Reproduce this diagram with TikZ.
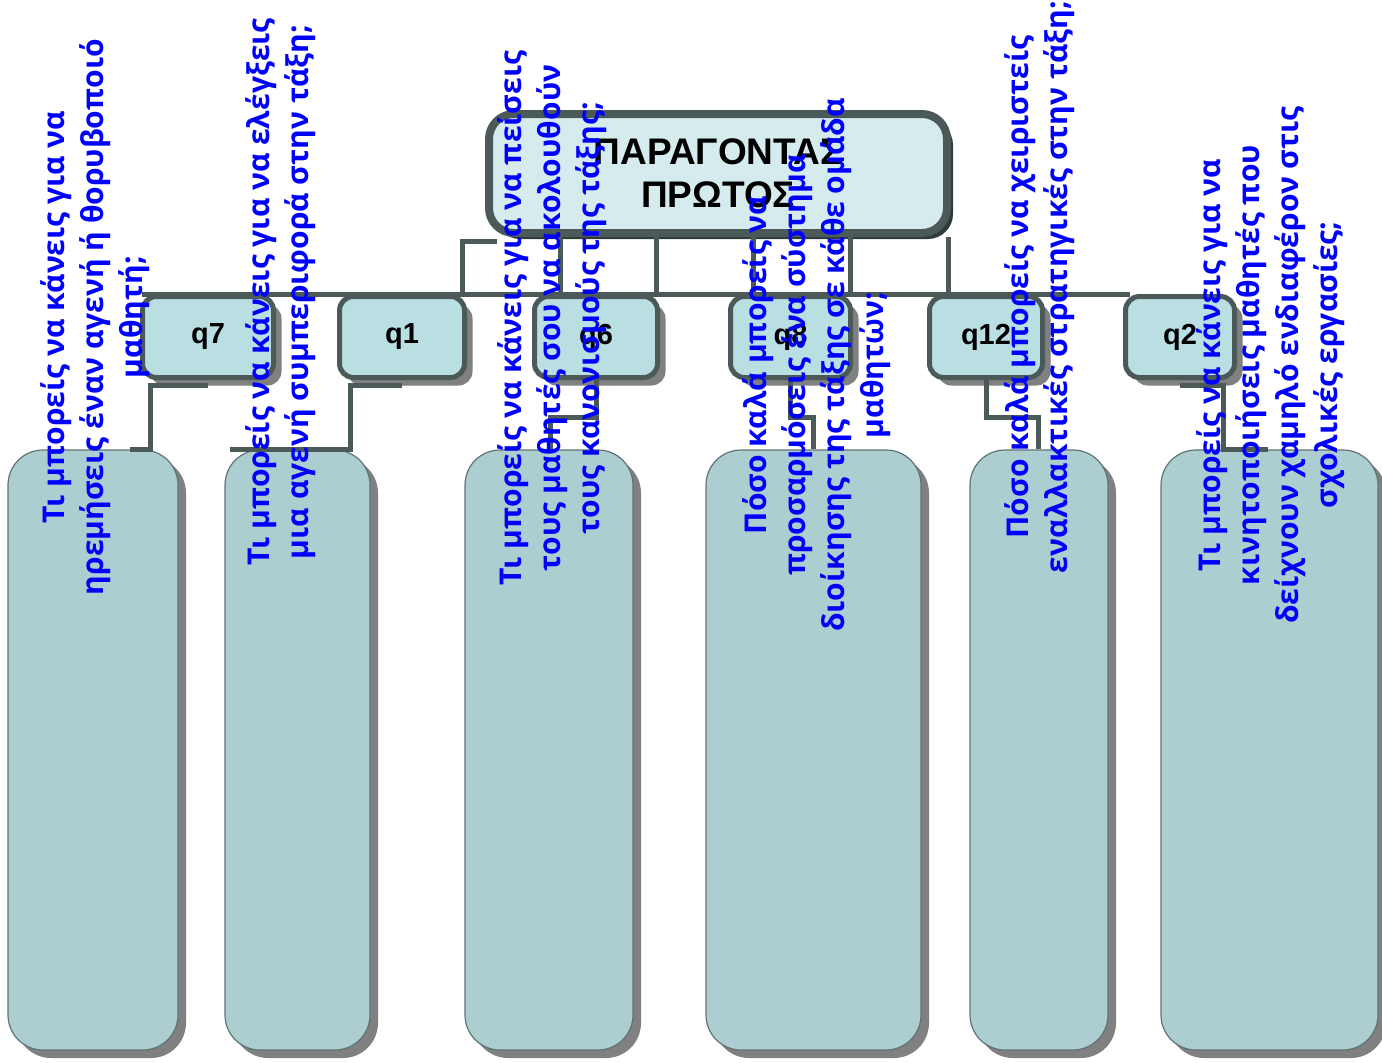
\documentclass[tikz,border=0pt]{standalone}
\usepackage{fontspec}
\setmainfont{Liberation Sans}
\newfontfamily\gkfont{Open Sans}
\usetikzlibrary{shadows,calc}
\definecolor{linec}{HTML}{4B5959}
\definecolor{topfill}{HTML}{D6EBEE}
\definecolor{qfill}{HTML}{B9DFE3}
\definecolor{bigfill}{HTML}{ADCED1}
\definecolor{bigline}{HTML}{5F7374}
\definecolor{shadowgray}{HTML}{808080}
\definecolor{topshadow}{HTML}{2F3A3A}
\definecolor{txtblue}{HTML}{0000FF}
\begin{document}
\begin{tikzpicture}[x=1pt,y=-1pt,
  conn/.style={draw=linec, line width=5pt},
  topbox/.style={draw=linec, line width=8pt, fill=topfill, rounded corners=25pt,
    minimum width=458pt, minimum height=119pt, inner sep=0pt, align=center,
    font=\bfseries\fontsize{37}{43}\selectfont,
    drop shadow={shadow xshift=6pt, shadow yshift=-6pt, fill=topshadow, opacity=1}},
  qbox/.style={draw=linec, line width=5pt, fill=qfill, rounded corners=14pt,
    minimum height=81pt, inner sep=0pt, font=\bfseries\fontsize{29}{34}\selectfont,
    drop shadow={shadow xshift=8pt, shadow yshift=-8pt, fill=shadowgray, opacity=1}},
  bigbox/.style={draw=bigline, line width=1.2pt, fill=bigfill, rounded corners=35pt,
    minimum height=600pt, inner sep=0pt,
    drop shadow={shadow xshift=8pt, shadow yshift=-8pt, fill=shadowgray, opacity=1}},
  qtext/.style={rotate=90, align=center, text=txtblue, inner sep=0pt,
    font=\gkfont\bfseries\fontsize{30}{39}\selectfont}
]
\useasboundingbox (0,0) rectangle (1382,1063);

\coordinate (busL) at (142,294);
\coordinate (busR) at (1130,294);

\node[bigbox, minimum width=170pt] (b1) at (93,750) {};
\node[bigbox, minimum width=145pt] (b2) at (297.5,750) {};
\node[bigbox, minimum width=168pt] (b3) at (549,750) {};
\node[bigbox, minimum width=215pt] (b4) at (813.5,750) {};
\node[bigbox, minimum width=138pt] (b5) at (1039,750) {};
\node[bigbox, minimum width=217pt] (b6) at (1269.5,750) {};

\node[topbox] (top) at (718,173.5) {ΠΑΡΑΓΟΝΤΑΣ\\ΠΡΩΤΟΣ};

% connectors top box -> bus
\draw[conn] ([yshift=-4pt,xshift=12pt]top.south west) -- ([yshift=-4pt]top.south west -| 462,0) -- (busL -| 462,0);
\foreach \xx in {560,656,753,850,948}{
  \draw[conn] (top.south -| \xx,0) -- (busL -| \xx,0);
}
\draw[conn] (busL) -- (busR);

\node[qbox, minimum width=131pt] (q7) at (208,337) {q7};
\node[qbox, minimum width=125pt] (q1) at (402,337) {q1};
\node[qbox, minimum width=123pt] (q6) at (596,337) {q6};
\node[qbox, minimum width=120pt] (q8) at (790.5,337) {q8};
\node[qbox, minimum width=113pt] (q12) at (986,337) {q12};
\node[qbox, minimum width=109pt] (q2) at (1180,337) {q2};

\draw[conn] ([yshift=-5pt]q7.south) -| (b1.north -| 150,0) -- (b1.north -| 130,0);
\draw[conn] ([yshift=-5pt]q1.south) -| (b2.north -| 350,0) -- (b2.north -| 230,0);
\draw[conn] (q6.south) -- ([yshift=-37pt]q6.south) -| (b3.north -| 550,0);
\draw[conn] (q8.south) -- ([yshift=-37pt]q8.south) -| (b4.north -| 813,0);
\draw[conn] (q12.south) -- ([yshift=-37pt]q12.south) -| (b5.north -| 1038,0);
\draw[conn] ([yshift=-5pt]q2.south) -| (b6.north -| 1223,0) -- (b6.north -| 1268,0);

% texts
\node[qtext] (t1) at (95,317) {Τι μπορείς να κάνεις για να\\ηρεμήσεις έναν αγενή ή θορυβοποιό\\μαθητή;};
\node[qtext] (t2) at (281,292) {Τι μπορείς να κάνεις για να ελέγξεις\\μια αγενή συμπεριφορά στην τάξη;};
\node[qtext] (t3) at (552,318) {Τι μπορείς να κάνεις για να πείσεις\\τους μαθητές σου να ακολουθούν\\τους κανονισμούς της τάξης;};
\node[qtext] (t4) at (817,365) {Πόσο καλά μπορείς να\\προσαρμόσεις ένα σύστημα\\διοίκησης της τάξης σε κάθε ομάδα\\μαθητών;};
\node[qtext] (t5) at (1040,287) {Πόσο καλά μπορείς να χειριστείς\\εναλλακτικές στρατηγικές στην τάξη;};
\node[qtext] (t6) at (1271,365) {Τι μπορείς να κάνεις για να\\κινητοποιήσεις μαθητές που\\δείχνουν χαμηλό ενδιαφέρον στις\\σχολικές εργασίες;};
\end{tikzpicture}
\end{document}
